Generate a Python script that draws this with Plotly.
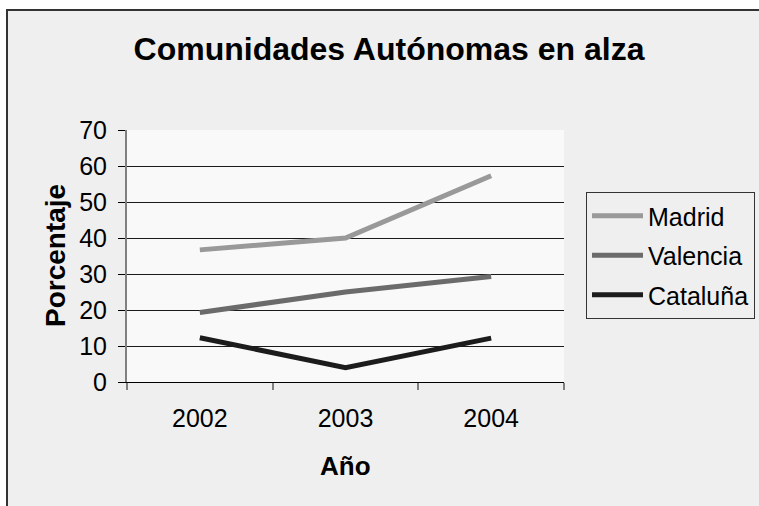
import plotly.graph_objects as go

years = ["2002", "2003", "2004"]
madrid = [36.7, 40.0, 57.3]
valencia = [19.3, 25.0, 29.3]
cataluna = [12.3, 4.0, 12.2]
series_names = ["Madrid", "Valencia", "Cataluña"]
series_colors = ["#999999", "#6b6b6b", "#1c1c1c"]
y_ticks = [0, 10, 20, 30, 40, 50, 60, 70]

W, H = 759, 506
L, R, T, B = 127, 195, 130, 124
pw, ph = W - L - R, H - T - B

def px_x(p):
    return (p - L) / pw

def px_y(p):
    return (H - B - p) / ph

FONT = "Liberation Sans, Arial, sans-serif"

fig = go.Figure()
for i, (name, vals, col) in enumerate(zip(series_names, [madrid, valencia, cataluna], series_colors)):
    fig.add_trace(go.Scatter(
        x=years, y=vals, name=name, mode="lines",
        line=dict(color=col, width=5), legendgroup=f"g{i}",
    ))

fig.update_layout(
    width=W, height=H,
    margin=dict(l=L, r=R, t=T, b=B, autoexpand=False),
    paper_bgcolor="white",
    plot_bgcolor="rgba(0,0,0,0)",
    font=dict(family=FONT, color="black", size=24),
    title=dict(text="<b>Comunidades Autónomas en alza</b>", font=dict(size=32, family=FONT, color="black"),
               x=389 / W, xanchor="center", xref="container",
               y=1 - 49 / H, yanchor="middle", yref="container"),
    showlegend=True,
    legend=dict(x=px_x(586), y=px_y(192), xanchor="left", yanchor="top",
                bgcolor="#efefef", bordercolor="#333333", borderwidth=1,
                font=dict(size=25, family=FONT, color="black"),
                tracegroupgap=4, traceorder="grouped", itemwidth=51),
    shapes=[
        dict(type="rect", xref="paper", yref="paper", layer="below",
             x0=px_x(7), x1=px_x(800), y0=px_y(10), y1=px_y(560),
             fillcolor="#efefef", line=dict(color="#333333", width=2)),
        dict(type="rect", xref="paper", yref="paper", layer="below",
             x0=0, x1=1, y0=0, y1=1, fillcolor="#f9f9f9", line=dict(width=0)),
    ],
    annotations=[
        dict(text="<b>Porcentaje</b>", textangle=-90, xref="paper", yref="paper",
             x=px_x(55), y=0.5, xanchor="center", yanchor="middle", showarrow=False,
             font=dict(size=28, family=FONT, color="black")),
        dict(text="<b>Año</b>", xref="paper", yref="paper",
             x=0.5, y=px_y(466), xanchor="center", yanchor="middle", showarrow=False,
             font=dict(size=26, family=FONT, color="black")),
    ],
)

fig.update_xaxes(
    type="category", range=[-0.5, 2.5], tickson="boundaries",
    ticks="outside", ticklen=7, tickcolor="#808080", tickwidth=2,
    showline=True, linecolor="black", linewidth=1,
    showgrid=False, zeroline=False, ticklabelstandoff=14,
    tickfont=dict(size=25, family=FONT, color="black"),
)
fig.update_yaxes(
    range=[0, 70], tickvals=y_ticks, ticks="outside", ticklen=7, tickcolor="black", tickwidth=1,
    showline=True, linecolor="#808080", linewidth=2,
    showgrid=True, gridcolor="#1a1a1a", gridwidth=1, zeroline=False,
    ticklabelstandoff=6,
    tickfont=dict(size=25, family=FONT, color="black"),
)

fig.write_html(
    "out.html",
    config={"displayModeBar": False},
    post_script="document.body.style.margin='0';document.body.style.overflow='hidden';",
)
